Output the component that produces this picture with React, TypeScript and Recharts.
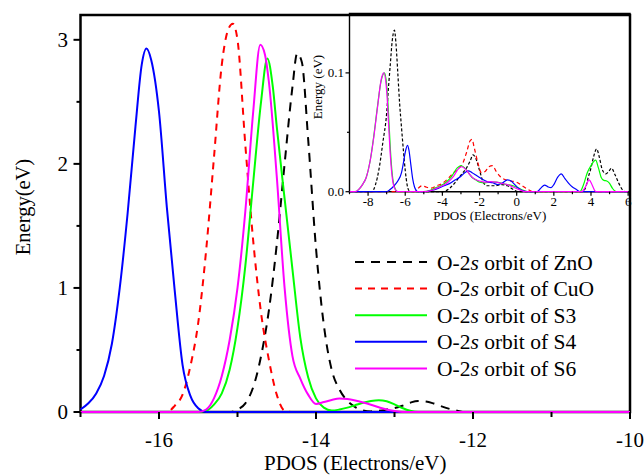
import React from "react";
import { LineChart, Line, XAxis, YAxis, ReferenceArea, Legend } from "recharts";

type Pt = [number, number];

// main panel: O-2s PDOS, x = energy, y = states
const MAIN_ZNO: Pt[] = [
  [-17, 0], [-15.1, 0], [-15.0, 0.02], [-14.9, 0.07], [-14.8, 0.2], [-14.7, 0.45], [-14.6, 0.82],
  [-14.5, 1.35], [-14.4, 2.0], [-14.3, 2.62], [-14.24, 2.89], [-14.18, 2.82], [-14.1, 2.2],
  [-14.0, 1.32], [-13.9, 0.7], [-13.8, 0.34], [-13.7, 0.18], [-13.6, 0.09], [-13.5, 0.04],
  [-13.4, 0.012], [-13.3, 0.005], [-13.2, 0.01], [-13.1, 0.02], [-13.0, 0.032], [-12.9, 0.05],
  [-12.8, 0.075], [-12.7, 0.089], [-12.6, 0.085], [-12.5, 0.068], [-12.4, 0.045], [-12.3, 0.025],
  [-12.2, 0.01], [-12.1, 0], [-10, 0],
];
const MAIN_CUO: Pt[] = [
  [-17, 0], [-15.9, 0], [-15.8, 0.05], [-15.7, 0.14], [-15.6, 0.37], [-15.5, 0.72], [-15.4, 1.3],
  [-15.3, 2.05], [-15.2, 2.8], [-15.12, 3.08], [-15.06, 3.13], [-15.0, 3.0], [-14.9, 2.15],
  [-14.8, 1.38], [-14.7, 0.8], [-14.6, 0.42], [-14.5, 0.14], [-14.4, 0.01], [-14.3, 0], [-10, 0],
];
const MAIN_S3: Pt[] = [
  [-17, 0], [-15.5, 0], [-15.4, 0.01], [-15.3, 0.06], [-15.2, 0.15], [-15.1, 0.34], [-15.0, 0.68],
  [-14.9, 1.18], [-14.8, 1.85], [-14.7, 2.5], [-14.62, 2.85], [-14.55, 2.62], [-14.5, 2.3],
  [-14.4, 1.72], [-14.3, 1.15], [-14.2, 0.6], [-14.1, 0.28], [-14.0, 0.11], [-13.9, 0.035],
  [-13.8, 0.012], [-13.7, 0.02], [-13.6, 0.035], [-13.5, 0.055], [-13.4, 0.074], [-13.3, 0.088],
  [-13.2, 0.094], [-13.1, 0.086], [-13.0, 0.062], [-12.9, 0.032], [-12.8, 0.01], [-12.7, 0], [-10, 0],
];
const MAIN_S4: Pt[] = [
  [-17, 0.02], [-16.9, 0.07], [-16.8, 0.15], [-16.7, 0.29], [-16.6, 0.55], [-16.5, 1.0], [-16.4, 1.6],
  [-16.3, 2.3], [-16.22, 2.8], [-16.16, 2.93], [-16.1, 2.84], [-16.0, 2.42], [-15.9, 1.65],
  [-15.8, 0.98], [-15.7, 0.38], [-15.6, 0.13], [-15.5, 0.03], [-15.4, 0], [-10, 0],
];
const MAIN_S6: Pt[] = [
  [-17, 0], [-15.5, 0], [-15.4, 0.02], [-15.3, 0.11], [-15.2, 0.29], [-15.1, 0.58], [-15.0, 1.0],
  [-14.9, 1.62], [-14.8, 2.42], [-14.71, 2.96], [-14.65, 2.88], [-14.6, 2.66], [-14.5, 1.9],
  [-14.4, 1.0], [-14.3, 0.45], [-14.2, 0.27], [-14.1, 0.14], [-14.0, 0.065], [-13.9, 0.08],
  [-13.8, 0.097], [-13.7, 0.108], [-13.6, 0.104], [-13.5, 0.092], [-13.4, 0.076], [-13.3, 0.058],
  [-13.2, 0.038], [-13.1, 0.02], [-13.0, 0.008], [-12.9, 0], [-10, 0],
];

// inset panel: valence band region
const INSET_ZNO: Pt[] = [
  [-9, 0], [-7.8, 0], [-7.6, 0.006], [-7.4, 0.02], [-7.2, 0.042], [-7.0, 0.066], [-6.9, 0.088],
  [-6.8, 0.108], [-6.7, 0.127], [-6.58, 0.136], [-6.5, 0.125], [-6.4, 0.1], [-6.3, 0.074],
  [-6.2, 0.054], [-6.1, 0.035], [-6.0, 0.018], [-5.9, 0.006], [-5.8, 0.001], [-5.6, 0], [-4.0, 0],
  [-3.6, 0.003], [-3.3, 0.008], [-3.0, 0.014], [-2.7, 0.02], [-2.5, 0.026], [-2.35, 0.031],
  [-2.2, 0.028], [-2.0, 0.018], [-1.8, 0.008], [-1.6, 0.005], [-1.2, 0.005], [-0.8, 0.006],
  [-0.5, 0.005], [-0.2, 0.002], [0.1, 0], [3.5, 0], [3.7, 0.003], [3.85, 0.012], [4.0, 0.02],
  [4.15, 0.03], [4.3, 0.036], [4.45, 0.029], [4.6, 0.019], [4.8, 0.015], [5.0, 0.018], [5.1, 0.0198],
  [5.3, 0.014], [5.5, 0.007], [5.7, 0.0015], [5.85, 0], [6, 0],
];
const INSET_CUO: Pt[] = [
  [-9, 0], [-5.5, 0], [-5.3, 0.003], [-5.1, 0.005], [-4.9, 0.004], [-4.6, 0.003], [-4.3, 0.005],
  [-4.0, 0.007], [-3.7, 0.011], [-3.4, 0.016], [-3.1, 0.02], [-2.9, 0.024], [-2.7, 0.033],
  [-2.5, 0.043], [-2.4, 0.044], [-2.3, 0.038], [-2.1, 0.025], [-1.9, 0.016], [-1.7, 0.017],
  [-1.5, 0.021], [-1.3, 0.022], [-1.1, 0.017], [-0.9, 0.013], [-0.6, 0.01], [-0.3, 0.009],
  [0, 0.008], [0.3, 0.005], [0.6, 0.002], [0.9, 0], [6, 0],
];
const INSET_S3: Pt[] = [
  [-9, 0], [-8.7, 0], [-8.5, 0.002], [-8.3, 0.006], [-8.1, 0.012], [-7.9, 0.025], [-7.7, 0.046],
  [-7.5, 0.071], [-7.3, 0.093], [-7.12, 0.1], [-7.0, 0.09], [-6.9, 0.066], [-6.8, 0.036],
  [-6.7, 0.015], [-6.6, 0.005], [-6.4, 0], [-5.0, 0], [-4.7, 0.001], [-4.4, 0.003], [-4.1, 0.005],
  [-3.8, 0.008], [-3.5, 0.013], [-3.2, 0.02], [-3.0, 0.022], [-2.8, 0.02], [-2.6, 0.016],
  [-2.4, 0.012], [-2.2, 0.01], [-2.0, 0.008], [-1.7, 0.0075], [-1.4, 0.008], [-1.1, 0.008],
  [-0.8, 0.007], [-0.5, 0.006], [-0.2, 0.005], [0.1, 0.003], [0.4, 0.001], [0.6, 0], [3.4, 0],
  [3.6, 0.006], [3.8, 0.016], [4.0, 0.022], [4.25, 0.0266], [4.4, 0.02], [4.55, 0.012],
  [4.7, 0.0095], [4.85, 0.009], [5.0, 0.007], [5.15, 0.003], [5.35, 0], [6, 0],
];
const INSET_S4: Pt[] = [
  [-9, 0], [-7.0, 0], [-6.8, 0.002], [-6.6, 0.005], [-6.4, 0.009], [-6.2, 0.016], [-6.1, 0.024],
  [-6.0, 0.033], [-5.88, 0.039], [-5.8, 0.035], [-5.7, 0.023], [-5.6, 0.011], [-5.5, 0.004],
  [-5.4, 0.001], [-5.3, 0], [-5.0, 0], [-4.6, 0.001], [-4.2, 0.003], [-3.9, 0.005], [-3.6, 0.007],
  [-3.3, 0.01], [-3.0, 0.013], [-2.8, 0.016], [-2.6, 0.0175], [-2.4, 0.016], [-2.2, 0.014],
  [-2.0, 0.012], [-1.8, 0.01], [-1.6, 0.0085], [-1.3, 0.0075], [-1.0, 0.006], [-0.8, 0.007],
  [-0.5, 0.01], [-0.3, 0.009], [-0.1, 0.006], [0.1, 0.003], [0.3, 0.001], [0.6, 0], [1.1, 0],
  [1.3, 0.003], [1.5, 0.0056], [1.7, 0.004], [1.85, 0.0035], [2.0, 0.006], [2.2, 0.012],
  [2.4, 0.015], [2.6, 0.011], [2.8, 0.007], [3.0, 0.004], [3.2, 0.002], [3.4, 0], [6, 0],
];
const INSET_S6: Pt[] = [
  [-9, 0], [-8.7, 0], [-8.5, 0.002], [-8.3, 0.006], [-8.1, 0.012], [-7.9, 0.025], [-7.7, 0.045],
  [-7.5, 0.07], [-7.3, 0.094], [-7.16, 0.1], [-7.0, 0.085], [-6.9, 0.058], [-6.8, 0.03],
  [-6.7, 0.012], [-6.6, 0.004], [-6.4, 0], [-5.0, 0], [-4.6, 0.001], [-4.3, 0.003], [-4.0, 0.005],
  [-3.7, 0.008], [-3.4, 0.013], [-3.1, 0.02], [-2.95, 0.021], [-2.7, 0.018], [-2.5, 0.014],
  [-2.3, 0.011], [-2.0, 0.009], [-1.7, 0.008], [-1.4, 0.0085], [-1.1, 0.008], [-0.8, 0.007],
  [-0.5, 0.006], [-0.2, 0.004], [0.1, 0.002], [0.5, 0], [3.5, 0], [3.7, 0.004], [3.9, 0.01],
  [4.05, 0.006], [4.2, 0.001], [4.3, 0], [6, 0],
];

const MAIN_X_TICKS = [-17, -16, -15, -14, -13, -12, -11, -10];
const MAIN_Y_TICKS = [0, 0.5, 1, 1.5, 2, 2.5, 3];
const INSET_X_TICKS = [-9, -8, -7, -6, -5, -4, -3, -2, -1, 0, 1, 2, 3, 4, 5, 6];
const INSET_Y_TICKS = [0, 0.05, 0.1];

const SERIES = [
  { name: "ZnO", color: "#000000", dash: "9 7", insetDash: "3 2", main: MAIN_ZNO, inset: INSET_ZNO },
  { name: "CuO", color: "#ff0000", dash: "7 6", insetDash: "4 3", main: MAIN_CUO, inset: INSET_CUO },
  { name: "S3", color: "#00ff00", dash: undefined, insetDash: undefined, main: MAIN_S3, inset: INSET_S3 },
  { name: "S4", color: "#0000ff", dash: undefined, insetDash: undefined, main: MAIN_S4, inset: INSET_S4 },
  { name: "S6", color: "#ff00ff", dash: undefined, insetDash: undefined, main: MAIN_S6, inset: INSET_S6 },
];

const FONT = '"Liberation Serif", "Times New Roman", serif';

const toRows = (pts: Pt[]) => pts.map(([x, y]) => ({ x, y }));

const MainXTick = ({ x, y, payload }: any) => {
  const major = payload.value % 2 === 0;
  return (
    <g>
      <line x1={x} x2={x} y1={y} y2={y + (major ? 7 : 5)} stroke="#000" strokeWidth={2} />
      {major && (
        <text x={x} y={y + 35} textAnchor="middle" fontSize={21} fontFamily={FONT} fill="#000">
          {payload.value}
        </text>
      )}
    </g>
  );
};

const MainYTick = ({ x, y, payload }: any) => {
  const major = Number.isInteger(payload.value);
  return (
    <g>
      <line x1={x - (major ? 7 : 4)} x2={x} y1={y} y2={y} stroke="#000" strokeWidth={2} />
      {major && (
        <text x={x - 12.5} y={y + 7} textAnchor="end" fontSize={21} fontFamily={FONT} fill="#000">
          {payload.value}
        </text>
      )}
    </g>
  );
};

const RightTick = ({ x, y }: any) => (
  <line x1={x} x2={x + 4} y1={y} y2={y} stroke="#000" strokeWidth={1.5} />
);

const InsetXTick = ({ x, y, payload }: any) => {
  const major = payload.value % 2 === 0;
  return (
    <g>
      <line x1={x} x2={x} y1={y} y2={y + (major ? 4 : 2.5)} stroke="#000" strokeWidth={1.2} />
      {major && (
        <text x={x} y={y + 14.5} textAnchor="middle" fontSize={13} fontFamily={FONT} fill="#000">
          {payload.value}
        </text>
      )}
    </g>
  );
};

const InsetYTick = ({ x, y, payload }: any) => {
  const major = payload.value !== 0.05;
  return (
    <g>
      <line x1={x - (major ? 4 : 2.5)} x2={x} y1={y} y2={y} stroke="#000" strokeWidth={1.2} />
      {major && (
        <text x={x - 5.5} y={y + 4.5} textAnchor="end" fontSize={13} fontFamily={FONT} fill="#000">
          {payload.value.toFixed(1)}
        </text>
      )}
    </g>
  );
};

const seriesIndex = (name: string) => SERIES.findIndex((d) => d.name === name);

const renderLegend = (props: any) => {
  const items = [...(props.payload ?? [])].sort(
    (a: any, b: any) => seriesIndex(a.value) - seriesIndex(b.value)
  );
  return (
    <svg width={260} height={145}>
      {items.map((entry: any, i: number) => {
        const s = SERIES[seriesIndex(entry.value)];
        const y = 14 + i * 26.6;
        return (
          <g key={entry.value}>
            <line x1={5} x2={77} y1={y} y2={y} stroke={entry.color} strokeWidth={2} strokeDasharray={s?.dash} />
            <text x={87} y={y + 7.5} fontSize={21.5} fontFamily={FONT} fill="#000">
              O-2<tspan fontStyle="italic">s</tspan> orbit of {entry.value}
            </text>
          </g>
        );
      })}
    </svg>
  );
};

export default function App() {
  return (
    <div style={{ position: "absolute", left: 0, top: 0, width: 644, height: 475, background: "#fff" }}>
      <div style={{ position: "absolute", left: 0, top: 0 }}>
        <LineChart width={644} height={475} margin={{ top: 15, right: 0, bottom: 0, left: 0 }}>
          <XAxis
            type="number"
            dataKey="x"
            domain={[-17, -10]}
            ticks={MAIN_X_TICKS}
            height={63}
            axisLine={false}
            tickLine={false}
            tickSize={0}
            tickMargin={0}
            tick={(p: any) => <MainXTick {...p} />}
            label={(p: any) => {
              const vb = p.viewBox ?? { x: 80.5, y: 412, width: 549.5 };
              return (
                <text x={vb.x + vb.width / 2} y={470} textAnchor="middle" fontSize={21} fontFamily={FONT} fill="#000">
                  PDOS (Electrons/eV)
                </text>
              );
            }}
          />
          <YAxis
            yAxisId="l"
            type="number"
            domain={[0, 3.2]}
            ticks={MAIN_Y_TICKS}
            width={80.5}
            axisLine={false}
            tickLine={false}
            tickSize={0}
            tickMargin={0}
            tick={(p: any) => <MainYTick {...p} />}
            label={() => (
              <text x={23} y={207} transform="rotate(-90 23 207)" textAnchor="middle" dominantBaseline="central" fontSize={20.5} fontFamily={FONT} fill="#000">
                Energy(eV)
              </text>
            )}
          />
          <YAxis
            yAxisId="r"
            orientation="right"
            type="number"
            domain={[0, 3.2]}
            ticks={MAIN_Y_TICKS}
            width={14}
            axisLine={false}
            tickLine={false}
            tickSize={0}
            tickMargin={0}
            tick={(p: any) => <RightTick {...p} />}
          />
          <ReferenceArea yAxisId="l" x1={-17} x2={-10} y1={0} y2={3.2} fill="none" stroke="#000" strokeWidth={2.5} />
          {SERIES.map((s) => (
            <Line
              key={s.name}
              yAxisId="l"
              name={s.name}
              data={toRows(s.main)}
              dataKey="y"
              type="monotone"
              stroke={s.color}
              strokeWidth={2}
              strokeDasharray={s.dash}
              dot={false}
              activeDot={false}
              isAnimationActive={false}
            />
          ))}
          <Legend
            layout="vertical"
            align="center"
            verticalAlign="middle"
            content={renderLegend}
            wrapperStyle={{ left: 350, top: 248, width: 260, height: 145 }}
          />
        </LineChart>
      </div>
      <div style={{ position: "absolute", left: 290, top: 0 }}>
        <LineChart width={354} height={235} margin={{ top: 13.5, right: 14, bottom: 0, left: 0 }}>
          <XAxis
            type="number"
            dataKey="x"
            domain={[-9, 6.1]}
            ticks={INSET_X_TICKS}
            height={43.3}
            axisLine={false}
            tickLine={false}
            tickSize={0}
            tickMargin={0}
            tick={(p: any) => <InsetXTick {...p} />}
            label={(p: any) => {
              const vb = p.viewBox ?? { x: 59.5, width: 280.5 };
              return (
                <text x={vb.x + vb.width / 2} y={220} textAnchor="middle" fontSize={13} fontFamily={FONT} fill="#000">
                  PDOS (Electrons/eV)
                </text>
              );
            }}
          />
          <YAxis
            type="number"
            domain={[0, 0.15]}
            ticks={INSET_Y_TICKS}
            width={59.5}
            axisLine={false}
            tickLine={false}
            tickSize={0}
            tickMargin={0}
            tick={(p: any) => <InsetYTick {...p} />}
            label={() => (
              <text x={27} y={87} transform="rotate(-90 27 87)" textAnchor="middle" dominantBaseline="central" fontSize={13} fontFamily={FONT} fill="#000">
                Energy (eV)
              </text>
            )}
          />
          <ReferenceArea x1={-9} x2={6.1} y1={0} y2={0.15} fill="none" stroke="#000" strokeWidth={1.4} />
          {SERIES.map((s) => (
            <Line
              key={s.name}
              name={s.name}
              data={toRows(s.inset)}
              dataKey="y"
              type="monotone"
              stroke={s.color}
              strokeWidth={1.2}
              strokeDasharray={s.insetDash}
              dot={false}
              activeDot={false}
              legendType="none"
              isAnimationActive={false}
            />
          ))}
        </LineChart>
      </div>
    </div>
  );
}
